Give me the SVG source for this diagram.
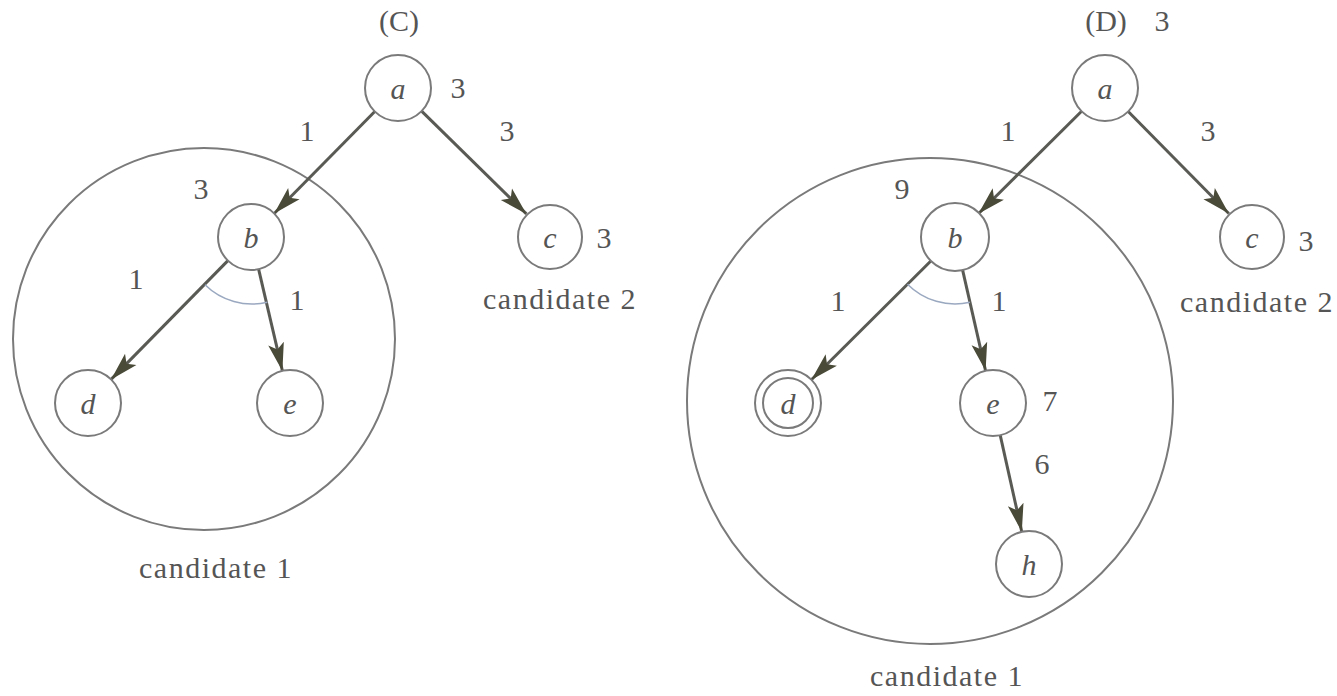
<svg xmlns="http://www.w3.org/2000/svg" width="1337" height="696" viewBox="0 0 1337 696">
<defs>
<marker id="arr" markerUnits="userSpaceOnUse" markerWidth="30" markerHeight="20" viewBox="0 0 30 20" refX="28" refY="10" orient="auto">
<path d="M0,2 L28,10 L0,18 L6,10 Z" fill="#4a4a38"/>
</marker>
<style>
.n{fill:#fff;stroke:#7a7a7a;stroke-width:2}
.big{fill:none;stroke:#7a7a7a;stroke-width:2}
.e{stroke:#5a5a55;stroke-width:3;fill:none;marker-end:url(#arr)}
.arc{fill:none;stroke:#9aa8c0;stroke-width:1.5}
text{font-family:"Liberation Serif","Times New Roman",serif;fill:#555;font-size:30px}
.lbl{text-anchor:middle;dominant-baseline:central}
.it{font-style:italic;text-anchor:middle;dominant-baseline:central}
.cap{letter-spacing:1.5px;text-anchor:middle}
</style>
</defs>
<rect width="1337" height="696" fill="#fff"/>
<g id="regions">
<circle class="big" cx="204" cy="339" r="191"/>
<circle class="big" cx="930" cy="401" r="243"/>
</g>
<g id="connectors">
<line class="e" x1="374.8" y1="111.5" x2="274.2" y2="213.5"/>
<line class="e" x1="421.6" y1="111.1" x2="526.4" y2="213.9"/>
<line class="e" x1="227.9" y1="260.6" x2="111.1" y2="379.4"/>
<line class="e" x1="258.6" y1="269.1" x2="282.4" y2="370.9"/>
<path class="arc" d="M205,284.8 A67,67 0 0 0 267.3,302.3"/>
<line class="e" x1="1081.6" y1="111.3" x2="978.4" y2="213.7"/>
<line class="e" x1="1128.2" y1="111.5" x2="1228.8" y2="213.5"/>
<line class="e" x1="931.6" y1="260.3" x2="811.4" y2="379.7"/>
<line class="e" x1="962.4" y1="269.2" x2="985.6" y2="370.8"/>
<line class="e" x1="1000.2" y1="435.2" x2="1021.8" y2="531.8"/>
<path class="arc" d="M907.5,284.2 A67,67 0 0 0 969.9,302.3"/>
</g>
<g id="C-a"><circle class="n" cx="398" cy="88" r="33"/><text class="it" x="398" y="88">a</text></g>
<g id="C-b"><circle class="n" cx="251" cy="237" r="33"/><text class="it" x="251" y="237">b</text></g>
<g id="C-c"><circle class="n" cx="550" cy="237" r="32"/><text class="it" x="550" y="237">c</text></g>
<g id="C-d"><circle class="n" cx="88" cy="403" r="33"/><text class="it" x="88" y="403">d</text></g>
<g id="C-e"><circle class="n" cx="290" cy="403" r="33"/><text class="it" x="290" y="403">e</text></g>
<g id="D-a"><circle class="n" cx="1105" cy="88" r="33"/><text class="it" x="1105" y="88">a</text></g>
<g id="D-b"><circle class="n" cx="955" cy="237" r="34"/><text class="it" x="955" y="237">b</text></g>
<g id="D-c"><circle class="n" cx="1252" cy="237" r="32"/><text class="it" x="1252" y="237">c</text></g>
<g id="D-d"><circle class="n" cx="788" cy="403" r="33"/><circle class="n" cx="788" cy="403" r="25"/><text class="it" x="788" y="403">d</text></g>
<g id="D-e"><circle class="n" cx="993" cy="403" r="33"/><text class="it" x="993" y="403">e</text></g>
<g id="D-h"><circle class="n" cx="1029" cy="564" r="33"/><text class="it" x="1029" y="564">h</text></g>
<g id="labels">
<text class="lbl" x="399" y="20">(C)</text>
<text class="lbl" x="458" y="87">3</text>
<text class="lbl" x="307" y="130">1</text>
<text class="lbl" x="507" y="130">3</text>
<text class="lbl" x="201" y="188">3</text>
<text class="lbl" x="604" y="237">3</text>
<text class="lbl" x="136" y="278">1</text>
<text class="lbl" x="297" y="299">1</text>
<text class="cap" x="216" y="578">candidate 1</text>
<text class="cap" x="560" y="309">candidate 2</text>
<text class="lbl" x="1106" y="20">(D)</text>
<text class="lbl" x="1162" y="20">3</text>
<text class="lbl" x="1008" y="130">1</text>
<text class="lbl" x="1208" y="130">3</text>
<text class="lbl" x="902" y="188">9</text>
<text class="lbl" x="1306" y="240">3</text>
<text class="lbl" x="838" y="300">1</text>
<text class="lbl" x="999" y="300">1</text>
<text class="lbl" x="1050" y="400">7</text>
<text class="lbl" x="1042" y="463">6</text>
<text class="cap" x="1257" y="312">candidate 2</text>
<text class="cap" x="947" y="686">candidate 1</text>
</g>
</svg>
